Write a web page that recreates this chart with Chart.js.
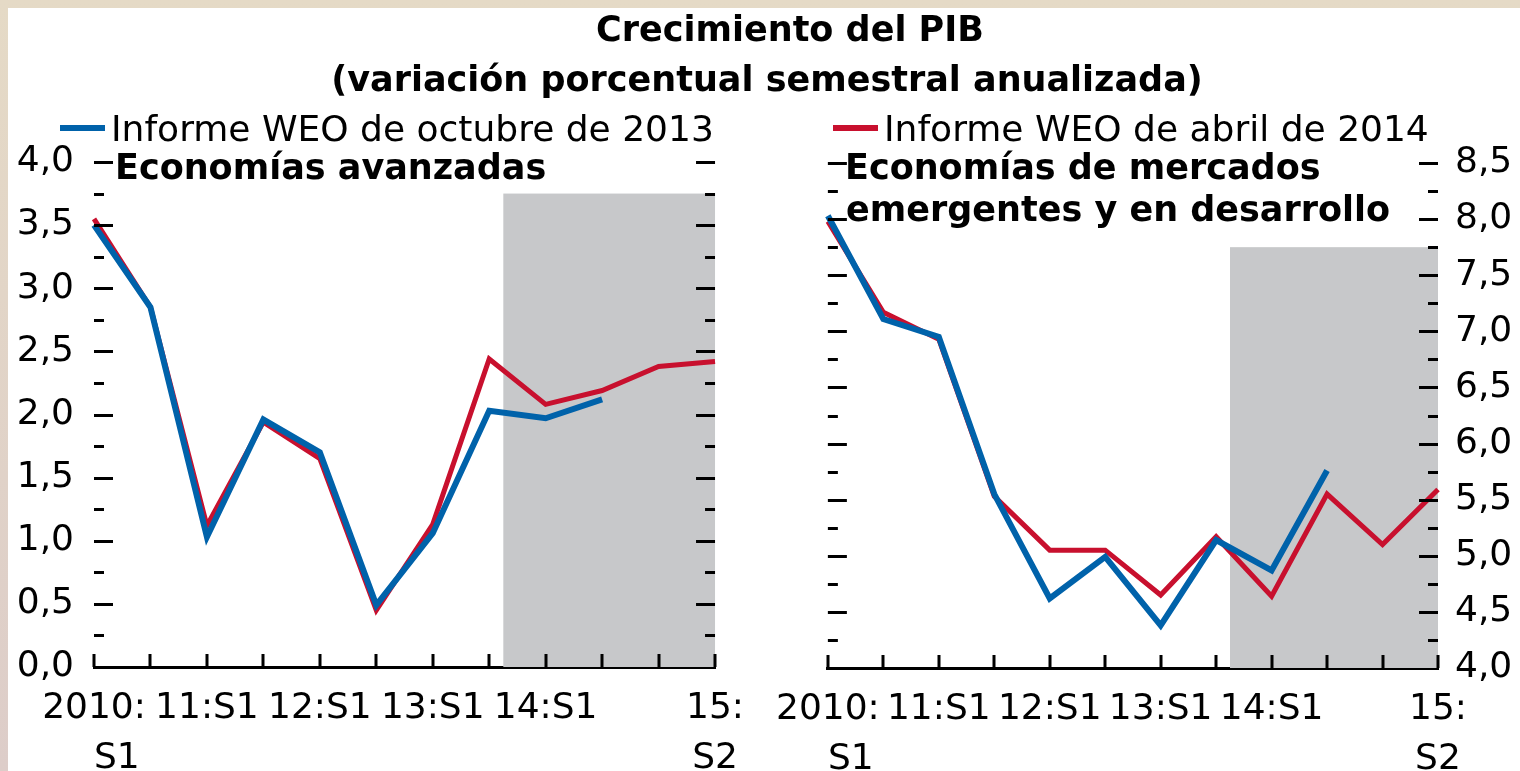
<!DOCTYPE html>
<html lang="es">
<head>
<meta charset="utf-8">
<title>Crecimiento del PIB</title>
<script src="https://cdn.jsdelivr.net/npm/chart.js@4"></script>
<style>
  html, body { margin: 0; padding: 0; }
  body {
    width: 1520px; height: 771px; position: relative; overflow: hidden;
    background: linear-gradient(to bottom, #e5dac6, #ddcdc9);
    font-family: "DejaVu Sans", sans-serif; color: #000;
  }
  #sheet { position: absolute; left: 8px; top: 8px; right: 0; bottom: 0; background: #fff; }
  canvas { position: absolute; top: 0; }
  #advChart { left: 0; }
  #emeChart { left: 760px; }
  .txt { position: absolute; white-space: nowrap; line-height: 1; }
  .bold { font-weight: bold; font-size: 35px; }
  .reg { font-size: 36px; }
  .center { transform: translateX(-50%); }
  .key { position: absolute; width: 45px; height: 6px; }
</style>
</head>
<body>
<div id="sheet"></div>
<canvas id="advChart" width="760" height="771"></canvas>
<canvas id="emeChart" width="760" height="771"></canvas>

<div class="txt bold center" style="left:790px; top:12px;">Crecimiento del PIB</div>
<div class="txt bold center" style="left:767px; top:62px;">(variación porcentual semestral anualizada)</div>

<div class="key" style="left:60px; top:125px; background:#0062aa;"></div>
<div class="txt reg" style="left:111px; top:111px;">Informe WEO de octubre de 2013</div>
<div class="key" style="left:833px; top:125px; background:#c8102e;"></div>
<div class="txt reg" style="left:884px; top:111px;">Informe WEO de abril de 2014</div>

<div class="txt bold" style="left:115px; top:150px;">Economías avanzadas</div>
<div class="txt bold" style="left:845px; top:150px;">Economías de mercados</div>
<div class="txt bold" style="left:846px; top:192px;">emergentes y en desarrollo</div>

<script>
// semesters 2010:S1 .. 2015:S2
const periods = ['2010:S1', '2010:S2', '2011:S1', '2011:S2', '2012:S1', '2012:S2',
                 '2013:S1', '2013:S2', '2014:S1', '2014:S2', '2015:S1', '2015:S2'];
const tickLabels = [['2010:', '    S1'], '', '11:S1', '', '12:S1', '', '13:S1', '', '14:S1', '', '', ['15:', 'S2']];

// Economías avanzadas
const advOct2013 = [3.50, 2.85, 1.03, 1.96, 1.70, 0.49, 1.06, 2.03, 1.97, 2.12, null, null];
const advApr2014 = [3.55, 2.85, 1.12, 1.94, 1.65, 0.45, 1.13, 2.44, 2.08, 2.19, 2.38, 2.42];

// Economías de mercados emergentes y en desarrollo
const emeOct2013 = [8.03, 7.11, 6.95, 5.55, 4.62, 4.99, 4.38, 5.14, 4.87, 5.76, null, null];
const emeApr2014 = [7.98, 7.17, 6.93, 5.53, 5.05, 5.05, 4.65, 5.17, 4.64, 5.55, 5.10, 5.59];

// projection period (grey box)
const shadeFrom = 7.25;
const advShadeTop = 3.75;
const emeShadeTop = 7.75;

const BLUE = '#0062aa';
const RED = '#c8102e';
const FONT = { family: '"DejaVu Sans", sans-serif', size: 36 };

function shadePlugin(top) {
    return {
        id: 'shade',
        beforeDatasetsDraw(chart) {
            const { ctx, chartArea, scales: { x, y } } = chart;
            const x0 = x.getPixelForValue(shadeFrom);
            const y0 = y.getPixelForValue(top);
            ctx.save();
            ctx.fillStyle = '#c7c8ca';
            ctx.fillRect(x0, y0, chartArea.right - x0, chartArea.bottom - y0);
            ctx.restore();
        }
    };
}

// little inward tick marks on both sides and on the x axis
const tickMarks = {
    id: 'tickMarks',
    afterDraw(chart) {
        const { ctx, chartArea, scales: { x, y } } = chart;
        ctx.save();
        ctx.strokeStyle = '#000';
        ctx.lineWidth = 3;
        ctx.beginPath();
        for (let v = y.min + 0.25; v <= y.max + 1e-6; v += 0.25) {
            const py = Math.round(y.getPixelForValue(v)) + 0.5;
            const major = Math.abs(v * 2 - Math.round(v * 2)) < 1e-6;
            const len = major ? 19 : 10;
            ctx.moveTo(chartArea.left, py);
            ctx.lineTo(chartArea.left + len, py);
            ctx.moveTo(chartArea.right - len, py);
            ctx.lineTo(chartArea.right, py);
        }
        for (let i = 0; i < periods.length; i++) {
            const px = Math.round(x.getPixelForValue(i));
            ctx.moveTo(px, chartArea.bottom);
            ctx.lineTo(px, chartArea.bottom - 13);
        }
        ctx.stroke();
        ctx.restore();
    }
};

function drawPanel(canvasId, oct, apr, yMin, yMax, shadeTop, side) {
    const ctx = document.getElementById(canvasId).getContext('2d');
    const padding = side === 'left'
        ? { left: 0, right: 41, top: 162, bottom: 0 }
        : { left: 61, right: 0, top: 163, bottom: 0 };
    const yWidth = side === 'left' ? 94 : 82;
    const xHeight = side === 'left' ? 104 : 103;

    new Chart(ctx, {
        type: 'line',
        data: {
            labels: periods,
            datasets: [{
                label: 'Informe WEO de octubre de 2013',
                data: oct,
                borderColor: BLUE,
                borderWidth: 6,
                pointRadius: 0,
                tension: 0,
                fill: false
            }, {
                label: 'Informe WEO de abril de 2014',
                data: apr,
                borderColor: RED,
                borderWidth: 5,
                pointRadius: 0,
                tension: 0,
                fill: false
            }]
        },
        options: {
            responsive: false,
            animation: false,
            layout: { padding: padding },
            plugins: {
                legend: { display: false },
                tooltip: { enabled: false }
            },
            scales: {
                x: {
                    grid: { display: false, drawTicks: false },
                    border: { display: true, color: '#000', width: 3 },
                    afterFit: scale => { scale.height = xHeight; },
                    ticks: {
                        autoSkip: false,
                        maxRotation: 0,
                        padding: 16,
                        color: '#000',
                        font: { ...FONT, lineHeight: 1.4 },
                        callback: (value, i) => tickLabels[i]
                    }
                },
                y: {
                    position: side,
                    min: yMin,
                    max: yMax,
                    grid: { display: false, drawTicks: false },
                    border: { display: false },
                    afterFit: scale => { scale.width = yWidth; },
                    ticks: {
                        stepSize: 0.5,
                        padding: side === 'left' ? 20 : 17,
                        color: '#000',
                        font: FONT,
                        callback: v => v.toFixed(1).replace('.', ',')
                    }
                }
            }
        },
        plugins: [shadePlugin(shadeTop), tickMarks]
    });
}

drawPanel('advChart', advOct2013, advApr2014, 0, 4, advShadeTop, 'left');
drawPanel('emeChart', emeOct2013, emeApr2014, 4, 8.5, emeShadeTop, 'right');
</script>
</body>
</html>
